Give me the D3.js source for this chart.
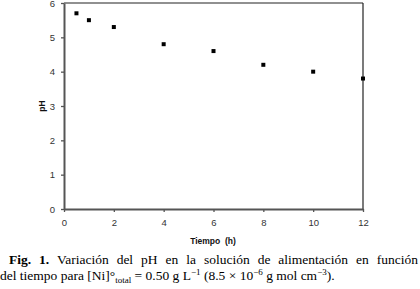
<!DOCTYPE html>
<html>
<head>
<meta charset="utf-8">
<script src="https://cdn.jsdelivr.net/npm/d3@7"></script>
<style>
  body { margin: 0; background: #fff; }
  svg { display: block; }
</style>
</head>
<body>
<div id="chart"></div>
<script>
// time (h) and pH
const tiempo = [0.5, 1, 2, 4, 6, 8, 10, 12];
const ph = [5.7, 5.5, 5.3, 4.8, 4.6, 4.2, 4.0, 3.8];
const xTicks = [0, 2, 4, 6, 8, 10, 12];
const yTicks = [0, 1, 2, 3, 4, 5, 6];

const width = 420, height = 289;

const svg = d3.select("#chart")
  .append("svg")
  .attr("width", width)
  .attr("height", height);

const x = d3.scaleLinear().domain([0, 12]).range([64, 363]);
const y = d3.scaleLinear().domain([0, 6]).range([209, 3]);

// frame: top and right lines
svg.append("line")
  .attr("x1", x(0)).attr("x2", x(12))
  .attr("y1", y(6)).attr("y2", y(6))
  .attr("stroke", "#222").attr("stroke-width", 1.2);
svg.append("line")
  .attr("x1", x(12)).attr("x2", x(12))
  .attr("y1", y(6)).attr("y2", y(0))
  .attr("stroke", "#222").attr("stroke-width", 1.2);

const xAxis = svg.append("g")
  .attr("transform", `translate(0,${y(0)})`)
  .call(d3.axisBottom(x).tickValues(xTicks).tickFormat(d3.format("d"))
    .tickSize(3).tickSizeOuter(0).tickPadding(7));

const yAxis = svg.append("g")
  .attr("transform", `translate(${x(0)},0)`)
  .call(d3.axisLeft(y).tickValues(yTicks).tickFormat(d3.format("d"))
    .tickSize(3).tickSizeOuter(0).tickPadding(6));

[xAxis, yAxis].forEach(g => {
  g.select(".domain").attr("stroke", "#555").attr("stroke-width", 2);
  g.selectAll(".tick line").attr("stroke", "#555").attr("stroke-width", 1.3);
  g.selectAll(".tick text")
    .attr("fill", "#333")
    .style("font-family", "'Liberation Sans', Arial, sans-serif")
    .style("font-size", "9.5px");
});

svg.append("g")
  .selectAll("rect")
  .data(tiempo).enter()
  .append("rect")
  .attr("x", (d, i) => x(d) - 2)
  .attr("y", (d, i) => y(ph[i]) - 2)
  .attr("width", 4)
  .attr("height", 4)
  .attr("fill", "#000");

svg.append("text")
  .attr("x", 213)
  .attr("y", 244)
  .attr("text-anchor", "middle")
  .style("font-family", "'Liberation Sans', Arial, sans-serif")
  .style("font-size", "8.5px")
  .style("font-weight", "bold")
  .style("white-space", "pre")
  .attr("fill", "#111")
  .text("Tiempo  (h)");

svg.append("text")
  .attr("transform", "rotate(-90)")
  .attr("x", -106)
  .attr("y", 45)
  .attr("text-anchor", "middle")
  .style("font-family", "'Liberation Sans', Arial, sans-serif")
  .style("font-size", "8.5px")
  .style("font-weight", "bold")
  .attr("fill", "#111")
  .text("pH");

// caption
const cap = svg.append("g")
  .style("font-family", "'Liberation Serif', 'Times New Roman', serif")
  .style("font-size", "13.5px")
  .attr("fill", "#000");

const line1 = cap.append("text").attr("x", 9).attr("y", 264);
line1.append("tspan").style("font-weight", "bold").text("Fig. 1.");
line1.append("tspan").text(" Variación del pH en la solución de alimentación en función");

// justify first line so it ends just inside the right edge
const target = 418 - 9;
let ws = 0;
for (let k = 0; k < 4; k++) {
  const w = line1.node().getComputedTextLength();
  ws += (target - w) / 11;
  line1.style("word-spacing", ws + "px");
}

const line2 = cap.append("text").attr("x", 0).attr("y", 280);
line2.append("tspan").text("del tiempo para [Ni]°");
line2.append("tspan").attr("dy", 3).style("font-size", "9px").text("total");
line2.append("tspan").attr("dy", -3).text(" = 0.50 g L");
line2.append("tspan").attr("dy", -5).style("font-size", "9px").text("−1");
line2.append("tspan").attr("dy", 5).text(" (8.5 × 10");
line2.append("tspan").attr("dy", -5).style("font-size", "9px").text("−6");
line2.append("tspan").attr("dy", 5).text(" g mol cm");
line2.append("tspan").attr("dy", -5).style("font-size", "9px").text("−3");
line2.append("tspan").attr("dy", 5).text(").");
</script>
</body>
</html>
